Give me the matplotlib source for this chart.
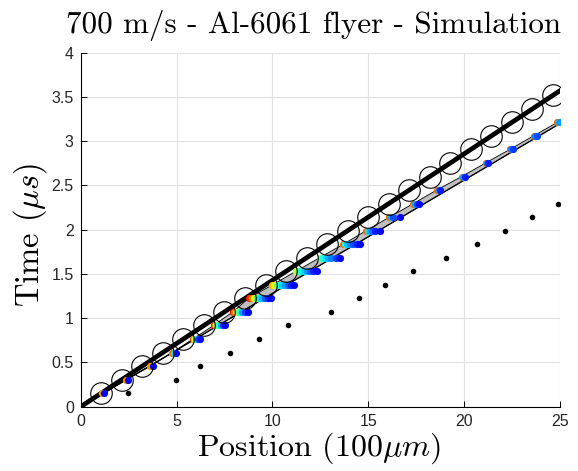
import matplotlib
matplotlib.use("Agg")
import matplotlib.pyplot as plt
import numpy as np

# ---------------- data ----------------
# reference straight line (700 m/s)
ref_x = [0.0, 25.0]
ref_t = [0.0, 3.571]
# lower edge of gray band (flyer front)
front_x = [0.0, 25.0]
front_t = [0.0, 3.20]

# open circles on the reference line
circ_x = [1.07, 2.14, 3.21, 4.28, 5.36, 6.43, 7.50, 8.57, 9.64, 10.71, 11.78, 12.85,
          13.92, 14.99, 16.06, 17.14, 18.21, 19.28, 20.35, 21.42, 22.49, 23.56, 24.63]
circ_t = [0.153, 0.306, 0.459, 0.612, 0.765, 0.918, 1.071, 1.224, 1.377, 1.530, 1.683, 1.836,
          1.989, 2.142, 2.295, 2.448, 2.601, 2.754, 2.907, 3.060, 3.213, 3.366, 3.519]

# small black dots
blk_x = [2.49, 4.95, 6.24, 7.81, 9.32, 10.83, 13.07, 14.53, 15.87, 17.33, 19.07, 20.69, 22.15, 23.54, 24.88]
blk_t = [0.153, 0.306, 0.459, 0.612, 0.765, 0.918, 1.071, 1.224, 1.377, 1.530, 1.683, 1.836, 1.989, 2.142, 2.295]

# simulation rows (time, positions, colour value on jet scale)
row_t = [0.153, 0.306, 0.459, 0.612, 0.765, 0.918, 1.071, 1.224, 1.377, 1.530, 1.683,
         1.836, 1.989, 2.142, 2.295, 2.448, 2.601, 2.754, 2.907, 3.060, 3.213]
row_x = [
    [1.12, 1.24],
    [2.38, 2.49],
    [3.64, 3.76],
    [4.78, 4.88, 4.96],
    [5.85, 5.93, 6.00, 6.10, 6.20],
    [6.93, 7.00, 7.08, 7.18, 7.30, 7.42, 7.54],
    [7.93, 8.00, 8.08, 8.18, 8.30, 8.42, 8.56, 8.72],
    [8.76, 8.84, 8.93, 9.02, 9.12, 9.23, 9.35, 9.48, 9.62, 9.76, 9.90],
    [10.00, 10.08, 10.17, 10.28, 10.40, 10.52, 10.65, 10.80, 10.96, 11.14],
    [11.23, 11.32, 11.42, 11.54, 11.66, 11.80, 11.95, 12.12, 12.30],
    [12.46, 12.55, 12.66, 12.78, 12.92, 13.08, 13.30, 13.52],
    [13.70, 13.80, 13.90, 14.05, 14.22, 14.40, 14.58],
    [14.88, 14.98, 15.08, 15.22, 15.36, 15.62],
    [16.10, 16.20, 16.28, 16.66],
    [17.35, 17.45, 17.52, 17.66],
    [18.57, 18.67, 18.75],
    [19.87, 19.95, 20.02],
    [21.12, 21.20, 21.27],
    [22.38, 22.46, 22.53],
    [23.62, 23.70, 23.78],
    [24.86, 24.94, 25.00],
]
row_c = [
    [0.75, 0.13],
    [0.75, 0.13],
    [0.75, 0.13],
    [0.80, 0.35, 0.13],
    [0.85, 0.60, 0.38, 0.20, 0.13],
    [0.90, 0.75, 0.60, 0.42, 0.30, 0.18, 0.13],
    [0.90, 0.80, 0.65, 0.50, 0.38, 0.28, 0.18, 0.13],
    [0.92, 0.85, 0.75, 0.63, 0.52, 0.42, 0.35, 0.30, 0.22, 0.15, 0.13],
    [0.72, 0.63, 0.55, 0.45, 0.38, 0.33, 0.28, 0.22, 0.16, 0.13],
    [0.58, 0.50, 0.42, 0.37, 0.33, 0.28, 0.22, 0.16, 0.13],
    [0.55, 0.45, 0.38, 0.34, 0.30, 0.25, 0.18, 0.13],
    [0.80, 0.38, 0.32, 0.26, 0.20, 0.15, 0.13],
    [0.80, 0.35, 0.30, 0.22, 0.16, 0.13],
    [0.80, 0.30, 0.20, 0.13],
    [0.80, 0.30, 0.20, 0.13],
    [0.80, 0.28, 0.15],
    [0.80, 0.28, 0.15],
    [0.80, 0.25, 0.15],
    [0.80, 0.25, 0.18],
    [0.80, 0.25, 0.20],
    [0.80, 0.30, 0.28],
]

x_ticks = [0, 5, 10, 15, 20, 25]
y_ticks = [0, 0.5, 1, 1.5, 2, 2.5, 3, 3.5, 4]
y_ticklabels = ["0", "0.5", "1", "1.5", "2", "2.5", "3", "3.5", "4"]

# ---------------- figure ----------------
plt.rcParams['mathtext.fontset'] = 'cm'
plt.rcParams['axes.unicode_minus'] = False

fig = plt.figure(figsize=(5.78, 4.71), dpi=100)
ax = fig.add_axes([80.7 / 578, 1 - 406.7 / 471, (560 - 80.7) / 578, (406.7 - 52.7) / 471])

# gray band between back (leftmost simulated points) and front line
top_x = [0.0] + [r[0] for r in row_x]
top_t = [0.0] + row_t
poly_x = top_x + [front_x[1], front_x[0]]
poly_t = top_t + [front_t[1], front_t[0]]
ax.fill(poly_x, poly_t, facecolor=(0.75, 0.75, 0.75), edgecolor='black', linewidth=0.6, zorder=2)
ax.plot(front_x, front_t, color='black', linewidth=0.9, zorder=2.5)

# black dots
ax.plot(blk_x, blk_t, 'o', color='black', markersize=4.0, markeredgewidth=0, zorder=3)

# reference thick line
ax.plot(ref_x, ref_t, color='black', linewidth=3.4, zorder=4)

# coloured simulation dots
jet = matplotlib.colormaps['jet']
for t, xs, cs in zip(row_t, row_x, row_c):
    for xv, cv in zip(xs, cs):
        ax.plot([xv], [t], 'o', color=jet(cv), markersize=5.2, markeredgewidth=0, zorder=5)

# open circles
ax.plot(circ_x, circ_t, 'o', markerfacecolor='none', markeredgecolor='black',
        markersize=15.5, markeredgewidth=0.8, zorder=6)

ax.set_xlim(0, 25)
ax.set_ylim(0, 4)
ax.set_xticks(x_ticks)
ax.set_yticks(y_ticks)
ax.set_yticklabels(y_ticklabels)
ax.grid(True, color=(0.88, 0.88, 0.88), linewidth=0.8)
ax.set_axisbelow(True)
for s in ['top', 'right']:
    ax.spines[s].set_visible(False)
for s in ['left', 'bottom']:
    ax.spines[s].set_linewidth(0.8)
    ax.spines[s].set_color('black')
ax.tick_params(direction='in', length=4, width=0.7, labelsize=11.5,
               labelcolor=(0.15, 0.15, 0.15), pad=5)
for lab in ax.get_xticklabels() + ax.get_yticklabels():
    lab.set_fontfamily('Liberation Sans')

ax.set_title('700 m/s - Al-6061 flyer - Simulation', fontfamily='cmr10', fontsize=22.4,
             pad=14, x=0.485)
ax.set_xlabel(r'Position (100$\mu m$)', fontfamily='cmr10', fontsize=23)
ax.xaxis.set_label_coords(0.496, -0.066)
ax.set_ylabel(r'Time ($\mu s$)', fontfamily='cmr10', fontsize=23.5)
ax.yaxis.set_label_coords(-0.066, 0.485)

fig.savefig('out.png', dpi=100)
